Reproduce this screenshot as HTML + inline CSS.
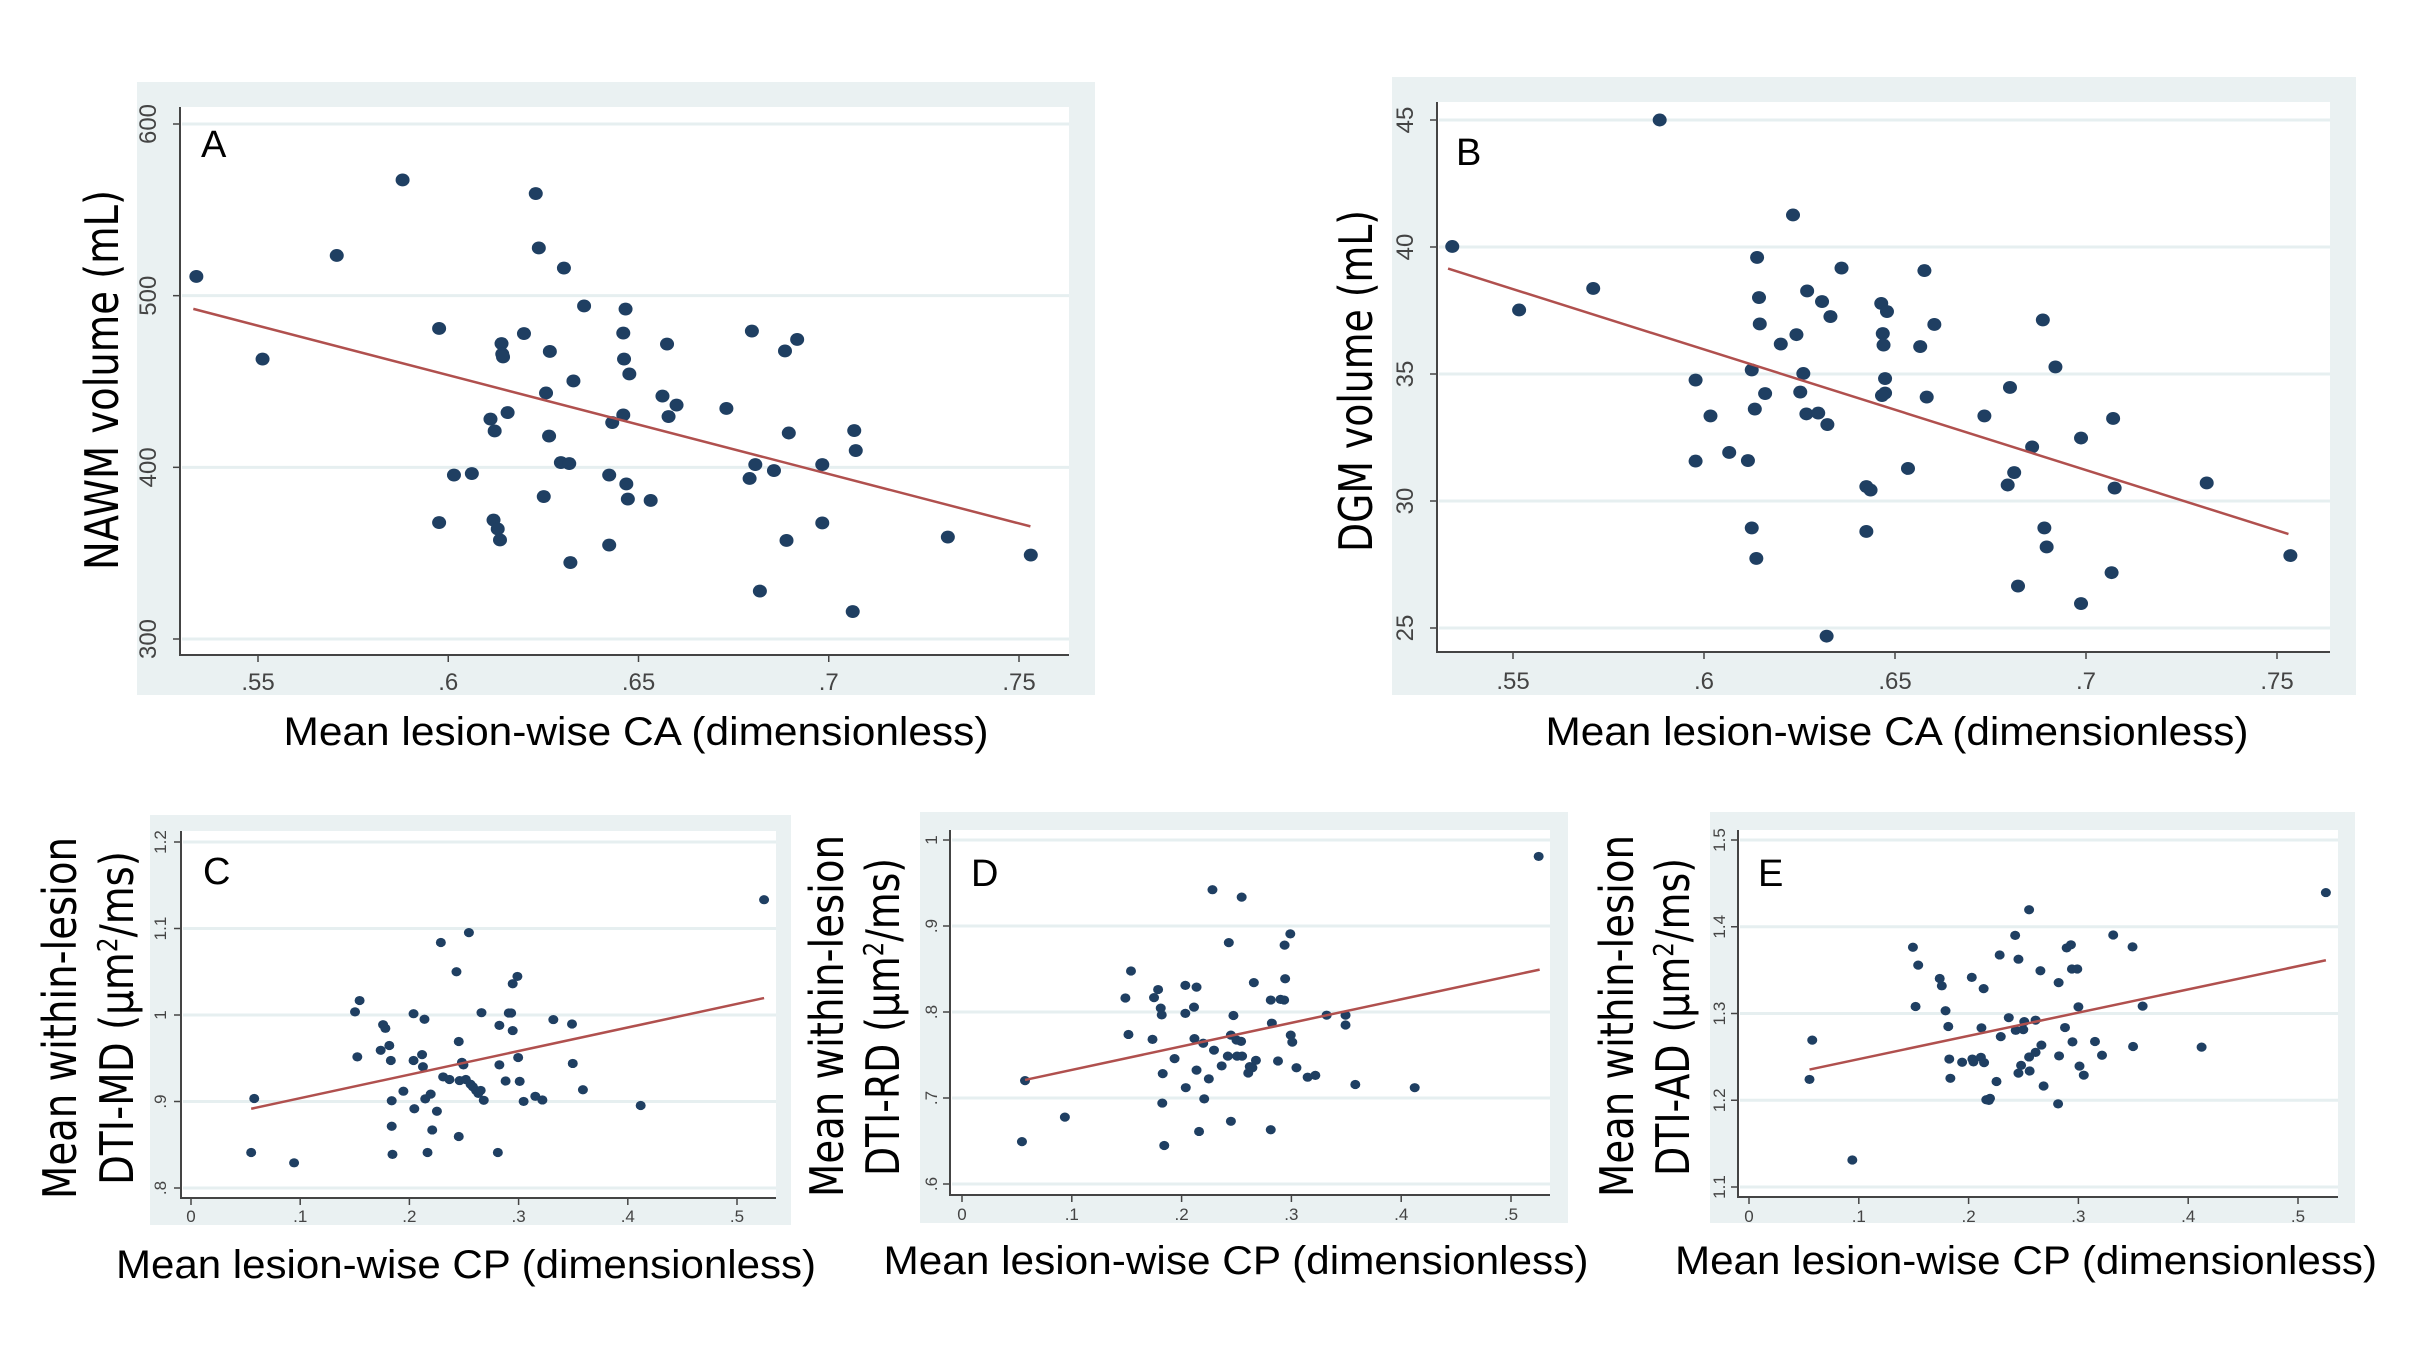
<!DOCTYPE html>
<html><head><meta charset="utf-8"><style>
html,body{margin:0;padding:0;background:#fff;}
svg{display:block;}
</style></head><body>
<svg id="fig" width="2436" height="1346" viewBox="0 0 2436 1346" xmlns="http://www.w3.org/2000/svg"></svg>
<script>
// ---- Panel A data (CA vs NAWM volume) ----
const aX=[.5338,.5512,.5707,.5880,.5976,.5976,.6015,.6062,.6111,.6119,.6122,.6130,.6136,.6140,.6142,.6144,.6156,.6199,.6230,.6238,.6251,.6257,.6265,.6267,.6296,.6304,.6318,.6321,.6329,.6357,.6423,.6423,.6431,.6460,.6460,.6462,.6466,.6468,.6472,.6476,.6532,.6563,.6575,.6579,.6600,.6731,.6792,.6798,.6807,.6819,.6856,.6885,.6889,.6895,.6917,.6983,.6983,.7063,.7067,.7071,.7313,.7531];
const aY=[511.2,463.1,523.4,567.4,480.9,367.8,395.5,396.4,428.1,369.3,421.2,364.1,357.7,472.1,466.0,464.3,431.9,477.9,559.5,527.8,383.0,443.3,418.2,467.5,402.8,516.1,402.2,344.5,450.3,494.0,395.5,354.7,426.1,430.5,478.2,463.1,492.2,390.3,381.5,454.4,380.7,441.5,471.8,429.6,436.3,434.3,393.5,479.4,401.6,327.9,398.1,467.8,357.4,420.0,474.5,401.6,367.6,316.0,421.4,409.8,359.4,348.9];
const aFitX=[.533,.753];
const aFitY=[492.3,365.6];
const aXTicks=[.55,.6,.65,.7,.75];
const aXTickLabels=[".55",".6",".65",".7",".75"];
const aYTicks=[300,400,500,600];
const aYTickLabels=["300","400","500","600"];
// ---- Panel B data (CA vs DGM volume) ----
const bX=[.5341,.5516,.5710,.5884,.5978,.5978,.6017,.6066,.6115,.6125,.6125,.6133,.6137,.6139,.6144,.6146,.6160,.6201,.6233,.6242,.6252,.6260,.6268,.6270,.6299,.6309,.6323,.6321,.6331,.6360,.6425,.6425,.6436,.6464,.6468,.6470,.6474,.6474,.6466,.6479,.6534,.6566,.6577,.6583,.6603,.6734,.6795,.6801,.6812,.6822,.6859,.6887,.6891,.6897,.6920,.6987,.6987,.7067,.7071,.7075,.7316,.7535];
const bY=[40.02,37.52,38.37,45.0,34.76,31.57,33.35,31.91,31.59,35.16,28.94,33.62,27.74,39.59,38.01,36.97,34.23,36.18,41.26,36.55,34.29,35.02,33.43,38.27,33.46,37.85,33.01,24.68,37.26,39.17,30.57,28.80,30.43,37.78,36.59,36.14,34.82,34.25,34.15,37.46,31.28,36.08,39.07,34.09,36.95,33.35,30.63,34.47,31.12,26.65,32.13,37.13,28.94,28.19,35.28,32.48,25.96,27.18,33.25,30.51,30.71,27.85];
const bFitX=[.533,.753];
const bFitY=[39.15,28.70];
const bXTicks=[.55,.6,.65,.7,.75];
const bXTickLabels=[".55",".6",".65",".7",".75"];
const bYTicks=[25,30,35,40,45];
const bYTickLabels=["25","30","35","40","45"];
// ---- Panel C data (CP vs DTI-MD) ----
const cX=[.0551,.0579,.0944,.1502,.1523,.1544,.1737,.1759,.1780,.1816,.1830,.1838,.1838,.1845,.1945,.2038,.2038,.2045,.2116,.2124,.2138,.2145,.2166,.2195,.2209,.2252,.2288,.2309,.2367,.2431,.2452,.2452,.2460,.2481,.2495,.2517,.2545,.2560,.2581,.2610,.2631,.2653,.2660,.2681,.2810,.2824,.2824,.2881,.2910,.2932,.2946,.2946,.2989,.2996,.3010,.3046,.3153,.3218,.3318,.3489,.3496,.3589,.4118,.5248];
const cY=[.8410,.9035,.8291,1.0036,.9516,1.0167,.9592,.9888,.9846,.9647,.9474,.9009,.8714,.8389,.9119,1.0015,.9474,.8916,.9542,.9402,.9951,.9030,.8410,.9085,.8671,.8887,1.0838,.9284,.9254,1.0500,.9694,.8595,.9242,.9453,.9423,.9254,1.0952,.9200,.9170,.9128,.9094,.9128,1.0027,.9014,.8410,.9423,.9880,.9237,1.0023,1.0023,.9820,1.0361,1.0446,.9508,.9233,.9001,.9060,.9018,.9947,.9896,.9440,.9136,.8954,1.1333];
const cFitX=[.0551,.5248];
const cFitY=[.8916,1.0196];
const cpXTicks=[0,.1,.2,.3,.4,.5];
const cpXTickLabels=["0",".1",".2",".3",".4",".5"];
const cYTicks=[.8,.9,1,1.1,1.2];
const cYTickLabels=[".8",".9","1","1.1","1.2"];
// ---- Panel D data (CP vs DTI-RD) ----
const dX=[.0546,.0574,.0937,.1488,.1516,.1539,.1735,.1749,.1786,.1810,.1819,.1828,.1824,.1842,.1936,.2034,.2034,.2038,.2113,.2117,.2136,.2136,.2159,.2197,.2206,.2248,.2281,.2295,.2365,.2430,.2449,.2449,.2421,.2472,.2500,.2505,.2542,.2547,.2551,.2607,.2621,.2645,.2677,.2658,.2812,.2822,.2812,.2878,.2901,.2934,.2938,.2943,.2990,.2994,.3008,.3046,.3148,.3218,.3321,.3493,.3493,.3582,.4123,.5252];
const dY=[.6493,.7202,.6778,.8163,.7739,.8477,.7682,.8167,.8261,.8045,.7967,.7283,.6941,.6448,.7458,.8310,.7984,.7120,.8057,.7690,.8289,.7324,.6611,.7637,.6990,.7222,.9422,.7556,.7373,.8807,.7731,.6729,.7487,.7959,.7674,.7487,.7658,.9336,.7487,.7291,.7365,.7352,.7438,.8342,.6631,.7870,.8139,.7430,.8147,.8139,.8778,.8387,.8908,.7731,.7650,.7352,.7242,.7263,.7963,.7963,.7849,.7157,.7120,.9809];
const dFitX=[.0574,.5261];
const dFitY=[.7210,.8493];
const dYTicks=[.6,.7,.8,.9,1];
const dYTickLabels=[".6",".7",".8",".9","1"];
// ---- Panel E data (CP vs DTI-AD) ----
const eX=[.0551,.0576,.0941,.1493,.1517,.1541,.1737,.1756,.1790,.1815,.1824,.1834,.1941,.2029,.2034,.2044,.2112,.2117,.2137,.2141,.2161,.2195,.2185,.2254,.2293,.2283,.2366,.2424,.2429,.2454,.2454,.2478,.2498,.2507,.2551,.2551,.2556,.2610,.2610,.2654,.2663,.2683,.2820,.2824,.2815,.2878,.2893,.2932,.2946,.2941,.2990,.3000,.3010,.3049,.3151,.3215,.3317,.3493,.3498,.3585,.4122,.5254];
const eY=[1.2240,1.2693,1.1311,1.3764,1.3081,1.3558,1.3404,1.3319,1.3032,1.2850,1.2475,1.2253,1.2438,1.3416,1.2475,1.2442,1.2495,1.2834,1.3287,1.2434,1.2006,1.2022,1.1998,1.2216,1.2733,1.3675,1.2952,1.3901,1.2806,1.3626,1.2313,1.2402,1.2814,1.2907,1.4196,1.2499,1.2337,1.2552,1.2923,1.3493,1.2636,1.2164,1.3356,1.2511,1.1958,1.2838,1.3756,1.3792,1.2673,1.3513,1.3513,1.3077,1.2394,1.2289,1.2677,1.2519,1.3905,1.3768,1.2620,1.3085,1.2612,1.4394];
const eFitX=[.0551,.5254];
const eFitY=[1.2354,1.3614];
const eYTicks=[1.1,1.2,1.3,1.4,1.5];
const eYTickLabels=["1.1","1.2","1.3","1.4","1.5"];

const NS="http://www.w3.org/2000/svg";
const svg=document.getElementById('fig');
function mk(tag,attrs,parent){const e=document.createElementNS(NS,tag);for(const k in attrs)e.setAttribute(k,attrs[k]);(parent||svg).appendChild(e);return e;}

function panel(cfg){
  const g=mk('g',{});
  
  
  const bg=mk('rect',{x:cfg.bg[0],y:cfg.bg[1],width:cfg.bg[2]-cfg.bg[0],height:cfg.bg[3]-cfg.bg[1],fill:'#eaf1f2'},g);
  
  
  const pl=mk('rect',{x:cfg.plot[0],y:cfg.plot[1],width:cfg.plot[2]-cfg.plot[0],height:cfg.plot[3]-cfg.plot[1],fill:'#ffffff'},g);
  
  
  const xs=v=>cfg.xp[0]+(v-cfg.xd[0])*(cfg.xp[1]-cfg.xp[0])/(cfg.xd[1]-cfg.xd[0]);
  const ys=v=>cfg.yp[0]+(v-cfg.yd[0])*(cfg.yp[1]-cfg.yp[0])/(cfg.yd[1]-cfg.yd[0]);
  // grid + y ticks
  cfg.yTicks.forEach((t,i)=>{
    const y=ys(t);
    const gl=mk('line',{x1:cfg.plot[0]+2,x2:cfg.plot[2],y1:y,y2:y,stroke:'#e6eff0','stroke-width':3},g);
    
    
    mk('line',{x1:cfg.plot[0]-7,x2:cfg.plot[0],y1:y,y2:y,stroke:'#444','stroke-width':1.5},g);
    const tx=mk('text',{x:cfg.yLabX,y:y,transform:`rotate(-90 ${cfg.yLabX} ${y})`,'text-anchor':'middle','font-family':'Liberation Sans, sans-serif','font-size':cfg.tickFs,fill:'#444'},g);
    tx.textContent=cfg.yTickLabels[i];
    
    
  });
  cfg.xTicks.forEach((t,i)=>{
    const x=xs(t);
    mk('line',{x1:x,x2:x,y1:cfg.plot[3],y2:cfg.plot[3]+7,stroke:'#444','stroke-width':1.5},g);
    const tx=mk('text',{x:x,y:cfg.xLabY,'text-anchor':'middle','font-family':'Liberation Sans, sans-serif','font-size':cfg.tickFs,fill:'#444'},g);
    tx.textContent=cfg.xTickLabels[i];
    
    
  });
  const ax=mk('path',{d:`M${cfg.plot[0]} ${cfg.plot[1]} V${cfg.plot[3]} H${cfg.plot[2]}`,fill:'none',stroke:'#444','stroke-width':2},g);
  
  
  // points
  cfg.xs.forEach((v,i)=>{
    const c=mk('ellipse',{cx:xs(v),cy:ys(cfg.ys[i]),rx:cfg.r,ry:cfg.r*0.92,fill:'#1f3f62'},g);
    
    
  });
  const fl=mk('line',{x1:xs(cfg.fitX[0]),y1:ys(cfg.fitY[0]),x2:xs(cfg.fitX[1]),y2:ys(cfg.fitY[1]),stroke:'#b0504e','stroke-width':2.5},g);
  
  
  // letter
  const L=mk('text',{x:cfg.letter[1],y:cfg.letter[2],'font-family':'Liberation Sans, sans-serif','font-size':38,fill:'#000'},g);
  L.textContent=cfg.letter[0];
  
  
  // x title
  const xt=mk('text',{x:cfg.xTitle[0],y:cfg.xTitle[1],'text-anchor':'middle','font-family':'Liberation Sans, sans-serif','font-size':40,textLength:cfg.xTitle[2],lengthAdjust:'spacingAndGlyphs',fill:'#000'},g);
  xt.textContent='Mean lesion-wise '+cfg.xVar+' (dimensionless)';
  
  
  // y title lines
  cfg.yTitle.forEach(l=>{
    const t=mk('text',{x:l.x,y:l.y,transform:`rotate(-90 ${l.x} ${l.y})`,'text-anchor':'middle','font-family':'DejaVu Sans, sans-serif','font-size':l.fs,textLength:l.len,lengthAdjust:'spacingAndGlyphs',fill:'#000'},g);
    if(l.sup){
      t.appendChild(document.createTextNode(l.pre));
      const s=mk('tspan',{'font-size':l.fs*0.6,'baseline-shift':'super'},t);
      s.textContent='2';
      t.appendChild(document.createTextNode(l.post));
    } else t.textContent=l.text;
    
    
  });
}

panel({name:'panel-a',bg:[137,82,1095,695],plot:[180,107,1069,655],xd:[.55,.75],xp:[258,1019],yd:[600,300],yp:[124,639],
  xTicks:aXTicks,xTickLabels:aXTickLabels,yTicks:aYTicks,yTickLabels:aYTickLabels,yLabX:156,xLabY:690,tickFs:24,
  xs:aX,ys:aY,fitX:aFitX,fitY:aFitY,r:7,letter:['A',201,157],xTitle:[636,745,705],xVar:'CA',
  yTitle:[{x:118,y:380,fs:46,len:380,text:'NAWM volume (mL)'}]});
panel({name:'panel-b',bg:[1392,77,2356,695],plot:[1437,102,2330,652],xd:[.55,.75],xp:[1513,2277],yd:[45,25],yp:[120,628],
  xTicks:bXTicks,xTickLabels:bXTickLabels,yTicks:bYTicks,yTickLabels:bYTickLabels,yLabX:1413,xLabY:689,tickFs:24,
  xs:bX,ys:bY,fitX:bFitX,fitY:bFitY,r:7,letter:['B',1456,165],xTitle:[1897,745,703],xVar:'CA',
  yTitle:[{x:1372,y:381,fs:46,len:342,text:'DGM volume (mL)'}]});
panel({name:'panel-c',bg:[150,815,791,1225],plot:[181,831,776,1198],xd:[0,.5],xp:[191,737],yd:[1.2,.8],yp:[842,1188],
  xTicks:cpXTicks,xTickLabels:cpXTickLabels,yTicks:cYTicks,yTickLabels:cYTickLabels,yLabX:166,xLabY:1222,tickFs:17,
  xs:cX,ys:cY,fitX:cFitX,fitY:cFitY,r:5,letter:['C',203,884],xTitle:[466,1278,700],xVar:'CP',
  yTitle:[{x:76,y:1018,fs:46,len:362,text:'Mean within-lesion'},{x:133,y:1018,fs:46,len:334,sup:true,pre:'DTI-MD (μm',post:'/ms)'}]});
panel({name:'panel-d',bg:[920,812,1568,1223],plot:[950,830,1550,1195],xd:[0,.5],xp:[962,1511],yd:[1,.6],yp:[840,1184],
  xTicks:cpXTicks,xTickLabels:cpXTickLabels,yTicks:dYTicks,yTickLabels:dYTickLabels,yLabX:937,xLabY:1220,tickFs:17,
  xs:dX,ys:dY,fitX:dFitX,fitY:dFitY,r:5,letter:['D',971,886],xTitle:[1236,1274,705],xVar:'CP',
  yTitle:[{x:843,y:1016,fs:46,len:362,text:'Mean within-lesion'},{x:899,y:1017,fs:46,len:318,sup:true,pre:'DTI-RD (μm',post:'/ms)'}]});
panel({name:'panel-e',bg:[1710,812,2355,1223],plot:[1738,830,2338,1197],xd:[0,.5],xp:[1749,2298],yd:[1.5,1.1],yp:[840,1187],
  xTicks:cpXTicks,xTickLabels:cpXTickLabels,yTicks:eYTicks,yTickLabels:eYTickLabels,yLabX:1725,xLabY:1222,tickFs:17,
  xs:eX,ys:eY,fitX:eFitX,fitY:eFitY,r:5,letter:['E',1758,886],xTitle:[2026,1274,702],xVar:'CP',
  yTitle:[{x:1633,y:1016,fs:46,len:362,text:'Mean within-lesion'},{x:1689,y:1017,fs:46,len:318,sup:true,pre:'DTI-AD (μm',post:'/ms)'}]});
</script>
</body></html>
